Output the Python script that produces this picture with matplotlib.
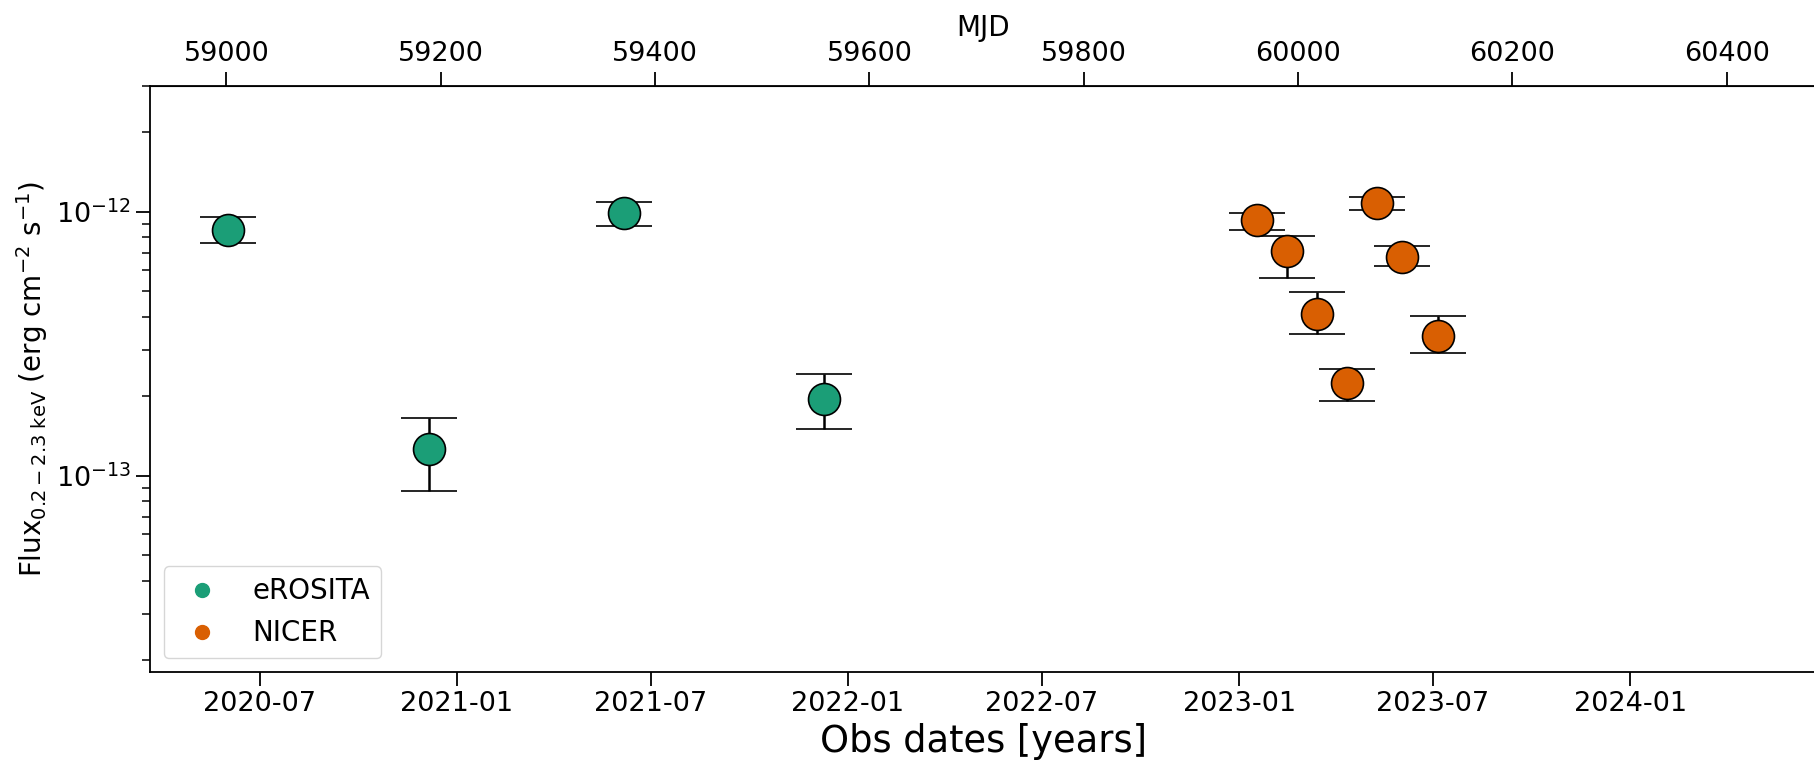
import numpy as np
import matplotlib
matplotlib.use('Agg')
import matplotlib.pyplot as plt
import matplotlib.dates as mdates
from matplotlib.lines import Line2D

# MJD offset of the matplotlib date epoch (1970-01-01)
MJD_EPOCH = 40587.0

# eROSITA fluxes (0.2-2.3 keV), erg/cm^2/s
ero_mjd = [59001.7, 59188.6, 59370.6, 59558.0]
ero_flux = [8.57e-13, 1.26e-13, 9.86e-13, 1.95e-13]
ero_hi = [9.55e-13, 1.65e-13, 1.09e-12, 2.42e-13]
ero_lo = [7.59e-13, 8.73e-14, 8.81e-13, 1.50e-13]

# NICER fluxes
nicer_mjd = [59962.0, 59990.0, 60018.0, 60046.0, 60074.0, 60097.0, 60131.0]
nicer_flux = [9.28e-13, 7.10e-13, 4.12e-13, 2.25e-13, 1.08e-12, 6.76e-13, 3.38e-13]
nicer_hi = [9.86e-13, 8.09e-13, 4.97e-13, 2.54e-13, 1.14e-12, 7.41e-13, 4.03e-13]
nicer_lo = [8.53e-13, 5.62e-13, 3.44e-13, 1.92e-13, 1.02e-12, 6.26e-13, 2.93e-13]

c_ero = '#1b9e77'
c_nicer = '#d95f02'


def to_dates(mjd):
    return np.array(mjd) - MJD_EPOCH


def yerr(f, lo, hi):
    f = np.array(f)
    return [f - np.array(lo), np.array(hi) - f]


fig = plt.figure(figsize=(18.14, 7.64), dpi=100)
ax = fig.add_axes([0.0825, 0.12, 0.919, 0.7675])

kw = dict(fmt='o', ms=23, mec='black', mew=1.2, ecolor='black',
          elinewidth=1.8, capsize=20, capthick=1.8)
ax.errorbar(to_dates(ero_mjd), ero_flux, yerr=yerr(ero_flux, ero_lo, ero_hi),
            mfc=c_ero, **kw)
ax.errorbar(to_dates(nicer_mjd), nicer_flux, yerr=yerr(nicer_flux, nicer_lo, nicer_hi),
            mfc=c_nicer, **kw)

ax.set_yscale('log')
ax.set_ylim(1.8e-14, 3e-12)
ax.set_xlim(58928.3 - MJD_EPOCH, 60484.0 - MJD_EPOCH)

ax.xaxis.set_major_locator(mdates.MonthLocator(bymonth=(1, 7)))
ax.xaxis.set_major_formatter(mdates.DateFormatter('%Y-%m'))
ax.tick_params(axis='both', which='major', labelsize=19.5, length=10, width=1.3)
ax.tick_params(axis='y', which='minor', length=6, width=1.1)
for s in ax.spines.values():
    s.set_linewidth(1.3)

ax.set_xlabel('Obs dates [years]', fontsize=26.5)
ax.set_ylabel(r'Flux$_{0.2-2.3\ \mathrm{keV}}$ (erg cm$^{-2}$ s$^{-1}$)', fontsize=20)

# MJD on top
top = ax.secondary_xaxis('top', functions=(lambda d: d + MJD_EPOCH,
                                           lambda m: m - MJD_EPOCH))
top.set_xticks(np.arange(59000, 60500, 200))
top.xaxis.set_major_formatter(matplotlib.ticker.FormatStrFormatter('%d'))
top.tick_params(labelsize=19.5, length=10, width=1.3)
top.set_xlabel('MJD', fontsize=20)

handles = [Line2D([], [], marker='o', ls='none', color=c_ero, ms=10),
           Line2D([], [], marker='o', ls='none', color=c_nicer, ms=10)]
ax.legend(handles, ['eROSITA', 'NICER'], loc='lower left', fontsize=20)

fig.savefig('out.png', dpi=100)
